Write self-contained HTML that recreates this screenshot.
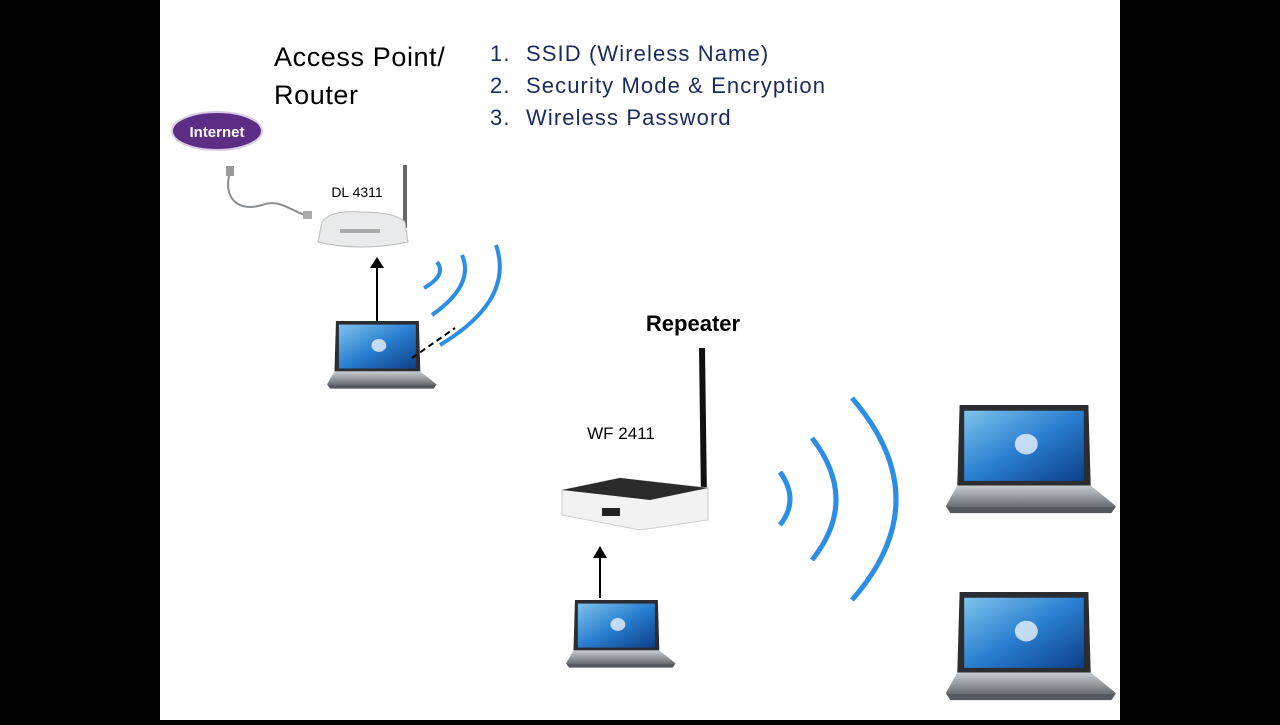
<!DOCTYPE html>
<html><head><meta charset="utf-8"><style>
body{margin:0;width:1280px;height:720px;background:#000;overflow:hidden;font-family:"Liberation Sans",sans-serif}
</style></head><body>
<svg width="1280" height="720" xmlns="http://www.w3.org/2000/svg">
<defs>
<linearGradient id="scr" x1="0" y1="0" x2="1" y2="1"><stop offset="0" stop-color="#7fc3ee"/><stop offset="0.5" stop-color="#2a7fd0"/><stop offset="1" stop-color="#0c3f8a"/></linearGradient>
<linearGradient id="base" x1="0" y1="0" x2="0" y2="1"><stop offset="0" stop-color="#c9ccd0"/><stop offset="1" stop-color="#6d7075"/></linearGradient>
<g id="lap">
<path d="M4 0 H116 L118 70 H2 Z" fill="#2b2d31"/>
<rect x="8" y="5" width="104" height="61" fill="url(#scr)"/>
<ellipse cx="62" cy="34" rx="10" ry="9" fill="#e8f3fb" opacity="0.8"/>
<path d="M2 70 H118 L140 88 H-8 Z" fill="url(#base)"/>
<path d="M-8 88 H140 L136 94 H-4 Z" fill="#55585d"/>
</g>
</defs>
<rect x="160" y="0" width="960" height="720" fill="#fff"/>
<text x="274" y="66" font-size="27" letter-spacing="0.6" fill="#000">Access Point/</text>
<text x="274" y="104" font-size="27" letter-spacing="0.6" fill="#000">Router</text>
<g font-size="22" fill="#1b2a5c" letter-spacing="1.1">
<text x="490" y="61">1.</text><text x="526" y="61">SSID (Wireless Name)</text>
<text x="490" y="93">2.</text><text x="526" y="93">Security Mode &amp; Encryption</text>
<text x="490" y="125">3.</text><text x="526" y="125">Wireless Password</text>
</g>
<ellipse cx="217" cy="131" rx="45" ry="19" fill="#5b2d84" stroke="#d9cce6" stroke-width="2"/>
<text x="217" y="137" font-size="15" font-weight="bold" fill="#fff" text-anchor="middle">Internet</text>
<path d="M230 172 C222 200, 240 212, 262 205 C280 198, 292 212, 308 216" fill="none" stroke="#8a8d90" stroke-width="2"/>
<rect x="226" y="166" width="8" height="10" fill="#999"/>
<rect x="303" y="211" width="9" height="8" fill="#aaa"/>
<text x="357" y="197" font-size="14" text-anchor="middle">DL 4311</text>
<line x1="405" y1="165" x2="405" y2="228" stroke="#666" stroke-width="4"/>
<path d="M322 222 Q330 210 360 212 Q395 212 405 222 L408 242 Q360 252 318 242 Z" fill="#e9eaec" stroke="#bbb"/>
<rect x="340" y="229" width="40" height="4" fill="#aaa"/>
<line x1="377" y1="322" x2="377" y2="265" stroke="#000" stroke-width="2"/>
<path d="M370 268 L377 257 L384 268 Z" fill="#000"/>
<use href="#lap" transform="translate(333,321) scale(0.74,0.72)"/>
<line x1="412" y1="358" x2="455" y2="328" stroke="#000" stroke-width="2" stroke-dasharray="6,4"/>
<g fill="none" stroke="#2b8ee6" stroke-width="4">
<path d="M437 262 Q447 275 424 288"/>
<path d="M462 255 Q475 285 432 315"/>
<path d="M496 245 Q515 300 440 345"/>
</g>
<text x="693" y="331" font-size="22" font-weight="bold" text-anchor="middle">Repeater</text>
<line x1="702" y1="348" x2="704" y2="500" stroke="#111" stroke-width="6"/>
<text x="621" y="439" font-size="17" text-anchor="middle">WF 2411</text>
<path d="M562 490 L620 478 L708 488 L708 520 L640 530 L562 515 Z" fill="#f2f2f2" stroke="#ccc"/>
<path d="M562 490 L620 478 L708 488 L650 500 Z" fill="#2a2a2a"/>
<rect x="602" y="508" width="18" height="8" fill="#222"/>
<line x1="600" y1="598" x2="600" y2="556" stroke="#000" stroke-width="2"/>
<path d="M593 558 L600 546 L607 558 Z" fill="#000"/>
<use href="#lap" transform="translate(572,600) scale(0.74,0.72)"/>
<g fill="none" stroke="#2b8ee6" stroke-width="5">
<path d="M780 472 Q800 500 780 525"/>
<path d="M812 438 Q860 500 812 560"/>
<path d="M852 398 Q940 500 852 600"/>
</g>
<use href="#lap" transform="translate(955,405) scale(1.15,1.15)"/>
<use href="#lap" transform="translate(955,592) scale(1.15,1.15)"/>
</svg>
</body></html>
